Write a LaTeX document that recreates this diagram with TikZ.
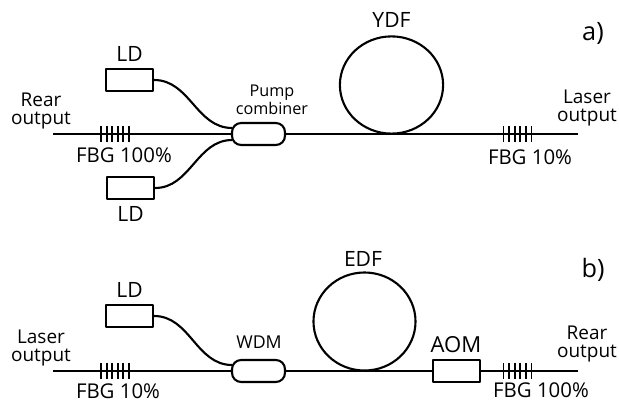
\documentclass[tikz,border=0pt]{standalone}
\usepackage{fontspec}
\setmainfont{Open Sans}
\usepackage{tikz}
\usetikzlibrary{positioning,shapes.geometric}
\newcommand{\gratingmarks}[1]{%
  \foreach \k in {-14,-8.4,-2.8,2.8,8.4,14}
    \draw[tick] ([xshift=\k*.025cm,yshift=8*.025cm]#1.center)--([xshift=\k*.025cm,yshift=-8*.025cm]#1.center);}
\begin{document}
\begin{tikzpicture}[x=.025cm,y=-.025cm,line join=round,
      font=\fontsize{13.5}{12.6}\selectfont,node distance=1.5mm,
      fib/.style={line width=1.5pt},
      tick/.style={line width=1.3pt},
      lab/.style={inner sep=0pt,align=center},
      big/.style={font=\fontsize{15}{15}\selectfont},
      ggl/.style={font=\fontsize{14.5}{14.5}\selectfont},
      ld/.style={draw,fill=white,line width=1.5pt,minimum width=1.175cm,minimum height=.55cm,inner sep=0pt},
      coup/.style={ld,rounded corners=.23cm,minimum width=1.325cm},
      coil/.style={draw,ellipse,line width=1.5pt,inner sep=0pt},
      fbg/.style={inner sep=0pt,minimum width=.7cm,minimum height=.4cm}]
      \useasboundingbox (0,0) rectangle (619,402);
      % a) Yb fibre laser
      \coordinate (rearA) at (53,134);
      \coordinate (laserA) at (578,134);
      \node[coup] (comb) at (258.5,134) {};
      \node[ld] (ldAt) at (129.5,80) {};
      \node[ld] (ldAb) at (130.5,188) {};
      \node[fbg] (fbgAl) at (115,134) {};
      \node[fbg] (fbgAr) at (517.5,134) {};
      \node[coil,minimum width=2.58cm,minimum height=2.43cm] (ydf) at (391.5,85) {};
      \draw[fib] (rearA)--(comb);
      \draw[fib] (comb)--(laserA);
      \draw[fib] (ldAt.east) to[out=0,in=180] ([xshift=.03cm,yshift=.15cm]comb.west);
      \draw[fib] (ldAb.east) to[out=0,in=180] ([xshift=.03cm,yshift=-.15cm]comb.west);
      \gratingmarks{fbgAl}
      \gratingmarks{fbgAr}
      \node[lab,big,above=of ldAt] (ldAtl) {LD};
      \node[lab,big,below=of ldAb] (ldAbl) {LD};
      \node[lab,font=\fontsize{11.5}{12.4}\selectfont] (combl) at (272,100) {Pump\\combiner};
      \node[lab] (rearAl) at (41,111) {Rear\\output};
      \node[lab] (laserAl) at (587,108) {Laser\\output};
      \node[lab,ggl] (fbgAll) at (124,155) {FBG 100\%};
      \node[lab,ggl] (fbgArl) at (530,157) {FBG 10\%};
      \node[lab,big,above=2mm of ydf] (ydfl) {YDF};
      \node[lab,font=\fontsize{18}{18}\selectfont] (tagA) at (593,33) {a)};
      % b) Er fibre laser
      \coordinate (laserB) at (53,371);
      \coordinate (rearB) at (578,371);
      \node[coup] (wdm) at (258.5,371) {};
      \node[ld] (ldB) at (129.5,316) {};
      \node[ld] (aom) at (456.5,371) {};
      \node[fbg] (fbgBl) at (115,371) {};
      \node[fbg] (fbgBr) at (517.5,371) {};
      \node[coil,minimum width=2.55cm,minimum height=2.45cm] (edf) at (364.5,321.5) {};
      \draw[fib] (laserB)--(wdm);
      \draw[fib] (wdm)--(aom);
      \draw[fib] (aom)--(rearB);
      \draw[fib] (ldB.east) to[out=0,in=180] ([xshift=.03cm,yshift=.15cm]wdm.west);
      \gratingmarks{fbgBl}
      \gratingmarks{fbgBr}
      \node[lab,big,above=of ldB] (ldBl) {LD};
      \node[lab,font=\fontsize{12.6}{12.6}\selectfont] (wdml) at (259,342) {WDM};
      \node[lab,font=\fontsize{15.7}{15.7}\selectfont] (aoml) at (456,345) {AOM};
      \node[lab] (laserBl) at (41,348) {Laser\\output};
      \node[lab] (rearBl) at (587,344) {Rear\\output};
      \node[lab,ggl] (fbgBll) at (118,391) {FBG 10\%};
      \node[lab,ggl] (fbgBrl) at (541,390) {FBG 100\%};
      \node[lab,big] (edfl) at (363,259) {EDF};
      \node[lab,font=\fontsize{18}{18}\selectfont] (tagB) at (593,270) {b)};
    \end{tikzpicture}
\end{document}
